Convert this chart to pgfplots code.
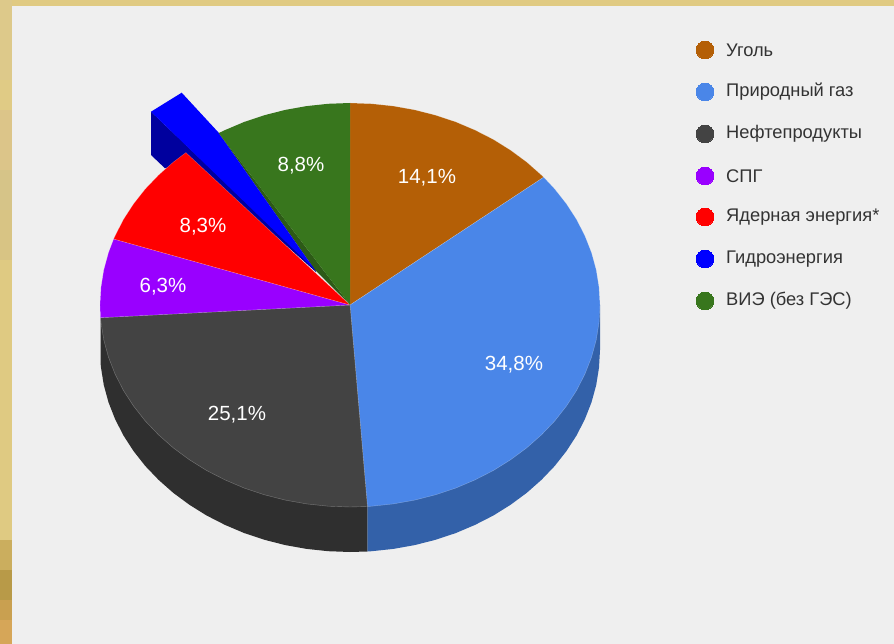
\documentclass[border=0pt]{standalone}
\usepackage{pgfplots}
\pgfplotsset{compat=1.18}
\usepackage{fontspec}
\setmainfont{Liberation Sans}
\definecolor{coal}{HTML}{B45F06}
\definecolor{gas}{HTML}{4A86E8}
\definecolor{oil}{HTML}{434343}
\definecolor{lng}{HTML}{9900FF}
\definecolor{nuc}{HTML}{FF0000}
\definecolor{hyd}{HTML}{0000FF}
\definecolor{res}{HTML}{38761D}
\definecolor{gasS}{HTML}{3361A9}
\definecolor{oilS}{HTML}{2F2F2F}
\definecolor{hydS}{HTML}{00009E}
\definecolor{resS}{HTML}{2D5A17}
\definecolor{panel}{HTML}{EFEFEF}
\definecolor{ink}{HTML}{333333}
\definecolor{ga}{HTML}{DDC98A}
\definecolor{gb}{HTML}{E0CB85}
\definecolor{gc}{HTML}{DCC589}
\definecolor{gd}{HTML}{D6C488}
\definecolor{ge}{HTML}{D8C484}
\definecolor{gf}{HTML}{DFCA82}
\definecolor{gg}{HTML}{CBAE5E}
\definecolor{gh}{HTML}{B89A48}
\definecolor{gi}{HTML}{C9A050}
\definecolor{gj}{HTML}{D6A658}
\definecolor{gk}{HTML}{E0CA82}
\pgfplotsset{
  top/.style={fill=#1,draw=white,draw opacity=0.3,line width=0.4pt,line join=round},
  flat/.style={fill=#1,draw=none},
}
\newcommand{\band}[3]{\addplot[flat=#3] coordinates {(0,#1)(12,#1)(12,#2)(0,#2)} -- cycle;}
\newcommand{\leg}[3]{\addplot[only marks,draw=#2,fill=#2,mark=*,mark size=8.8pt,mark options={solid,fill=#2,draw=#2,line width=0pt}] coordinates {(705,#1)};
  \node[anchor=west,text=ink,font=\fontsize{18.3}{20}\selectfont,inner sep=0pt] at (axis cs:726,#1) {#3};}
\newcommand{\lab}[3]{\node[text=white,font=\fontsize{20.5}{24}\selectfont,inner sep=0pt] at (axis cs:#1,#2) {#3};}
\begin{document}
\begin{tikzpicture}
\begin{axis}[
  scale only axis,width=894pt,height=644pt,
  xmin=0,xmax=894,ymin=0,ymax=644,y dir=reverse,
  hide axis,no markers,clip=false,
]
% ground and panel
\addplot[flat=panel] coordinates {(0,0)(894,0)(894,644)(0,644)} -- cycle;
\addplot[flat=gk] coordinates {(0,0)(894,0)(894,6)(0,6)} -- cycle;
\band{0}{80}{ga}
\band{80}{110}{gb}
\band{110}{170}{gc}
\band{170}{210}{gd}
\band{210}{260}{ge}
\band{260}{540}{gf}
\band{540}{570}{gg}
\band{570}{600}{gh}
\band{600}{620}{gi}
\band{620}{644}{gj}
% side walls
\addplot[flat=gasS] coordinates {(350,305)(600,305)(600,350)(599,367.6)(596.2,385.1)(591.5,402.3)(584.9,419.1)(576.6,435.4)(566.5,451)(554.8,465.9)(541.5,479.8)(526.8,492.8)(510.7,504.7)(493.4,515.5)(475,524.9)(455.7,533.1)(435.5,539.8)(414.7,545.1)(393.4,548.9)(371.8,551.2)(367.4,551.5)(367.4,506.5)} -- cycle;
\addplot[flat=oilS] coordinates {(350,305)(367.4,506.5)(367.4,551.5)(350,552)(328.2,551.2)(306.6,548.9)(285.3,545.1)(264.5,539.8)(244.3,533.1)(225,524.9)(206.6,515.5)(189.3,504.7)(173.2,492.8)(158.5,479.8)(145.2,465.9)(133.5,451)(123.4,435.4)(115.1,419.1)(108.5,402.3)(103.8,385.1)(101,367.6)(100.5,362.7)(100.5,317.7)} -- cycle;
% pulled-out hydro slice: side, then top
\addplot[flat=hydS] coordinates {(151,111.7)(151,155)(165,168.3)(190,160)(316,272)(315,268)} -- cycle;
\addplot[flat=resS] coordinates {(218,132)(350,305)(315,270)} -- cycle;
\addplot[flat=hyd] coordinates {(151,111.7)(181.7,92.7)(218,132)(315,270)} -- cycle;
% top faces
\addplot[top=coal] coordinates {(350,305)(350,103)(371.8,103.8)(393.4,106.1)(414.7,109.9)(435.5,115.2)(455.7,121.9)(475,130.1)(493.4,139.5)(510.7,150.3)(526.8,162.2)(541.5,175.2)(543.7,177.2)} -- cycle;
\addplot[top=gas] coordinates {(350,305)(543.7,177.2)(554.8,189.1)(566.5,204)(576.6,219.6)(584.9,235.9)(591.5,252.7)(596.2,269.9)(599,287.4)(600,305)(599,322.6)(596.2,340.1)(591.5,357.3)(584.9,374.1)(576.6,390.4)(566.5,406)(554.8,420.9)(541.5,434.8)(526.8,447.8)(510.7,459.7)(493.4,470.5)(475,479.9)(455.7,488.1)(435.5,494.8)(414.7,500.1)(393.4,503.9)(371.8,506.2)(367.4,506.5)} -- cycle;
\addplot[top=oil] coordinates {(350,305)(367.4,506.5)(350,507)(328.2,506.2)(306.6,503.9)(285.3,500.1)(264.5,494.8)(244.3,488.1)(225,479.9)(206.6,470.5)(189.3,459.7)(173.2,447.8)(158.5,434.8)(145.2,420.9)(133.5,406)(123.4,390.4)(115.1,374.1)(108.5,357.3)(103.8,340.1)(101,322.6)(100.5,317.7)} -- cycle;
\addplot[top=lng] coordinates {(350,305)(100.5,317.7)(100,305)(101,287.4)(103.8,269.9)(108.5,252.7)(113.7,239)} -- cycle;
\addplot[top=nuc] coordinates {(350,305)(113.7,239)(115.1,235.9)(123.4,219.6)(133.5,204)(145.2,189.1)(158.5,175.2)(173.2,162.2)(185.9,152.6)} -- cycle;
\addplot[flat=res] coordinates {(350,305)(218.7,133.1)(225,130.1)(244.3,121.9)(264.5,115.2)(285.3,109.9)(306.6,106.1)(328.2,103.8)(350,103)} -- cycle;
% slice labels
\lab{427}{178}{14,1\%}
\lab{514}{365}{34,8\%}
\lab{237}{415}{25,1\%}
\lab{163}{287}{6,3\%}
\lab{203}{227}{8,3\%}
\lab{301}{166}{8,8\%}
% legend
\leg{50}{coal}{Уголь}
\leg{92}{gas}{Природный газ}
\leg{134}{oil}{Нефтепродукты}
\leg{176}{lng}{СПГ}
\leg{217}{nuc}{Ядерная энергия*}
\leg{259}{hyd}{Гидроэнергия}
\leg{301}{res}{ВИЭ (без ГЭС)}
\end{axis}
\end{tikzpicture}
\end{document}
